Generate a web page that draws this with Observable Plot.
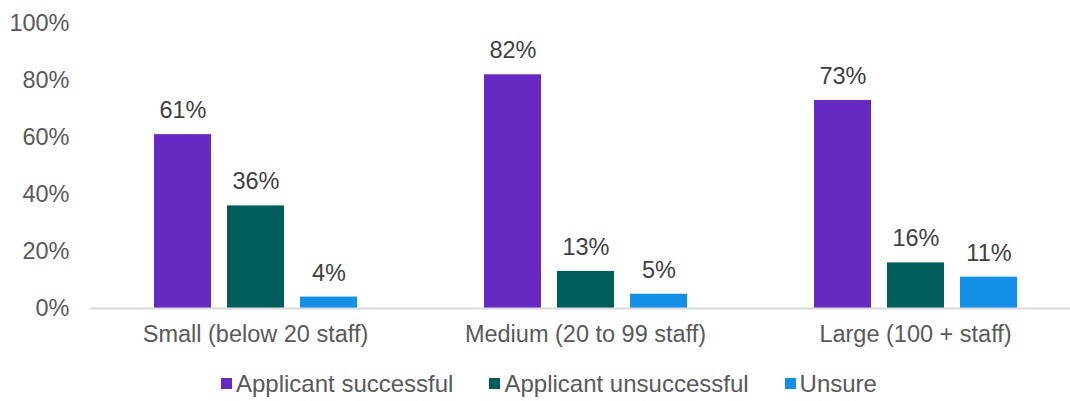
<!DOCTYPE html>
<html>
<head>
<meta charset="utf-8">
<script src="https://cdn.jsdelivr.net/npm/d3@7"></script>
<script src="https://cdn.jsdelivr.net/npm/@observablehq/plot@0.6"></script>
<style>
  html, body { margin: 0; padding: 0; background: #fff; }
  body { width: 1070px; height: 401px; overflow: hidden; font-family: "Liberation Sans", Arial, sans-serif; }
  #legend { display: flex; align-items: center; height: 35px; padding-top: 6px; padding-left: 221px; font-size: 24px; color: #595959; }
  .item { display: flex; align-items: center; margin-right: 36px; }
  .sw { width: 11px; height: 11px; margin-right: 4px; }
</style>
</head>
<body>
<div id="chart"></div>
<div id="legend"></div>
<script>
const groups = ["Small (below 20 staff)", "Medium (20 to 99 staff)", "Large (100 + staff)"];
const series = ["Applicant successful", "Applicant unsuccessful", "Unsure"];
const successful = [61, 82, 73];
const unsuccessful = [36, 13, 16];
const unsure = [4, 5, 11];
const yTicks = [0, 20, 40, 60, 80, 100];
const colors = ["#6629c2", "#005e5a", "#1490e8"];

const valuesBySeries = [successful, unsuccessful, unsure];
const data = groups.flatMap((g, i) => series.map((s, j) => ({group: g, series: s, value: valuesBySeries[j][i]})));

const chart = Plot.plot({
  width: 1070,
  height: 360,
  marginLeft: 90,
  marginRight: -10,
  marginTop: 23,
  marginBottom: 52,
  style: {fontFamily: "'Liberation Sans', Arial, sans-serif", fontSize: "23.5px", color: "#595959", background: "#fff"},
  fx: {domain: groups, padding: 0, label: null, axis: "bottom", tickSize: 0, tickPadding: 17},
  x: {domain: series, axis: null, paddingInner: 0.22, paddingOuter: 0.87},
  y: {domain: [0, 100], ticks: yTicks, tickFormat: d => d + "%", label: null, tickSize: 0, tickPadding: 21},
  color: {domain: series, range: colors},
  marks: [
    Plot.barY(data, {fx: "group", x: "series", y: "value", fill: "series"}),
    Plot.ruleY([0], {stroke: "#d9d9d9", strokeWidth: 2}),
    Plot.text(data, {fx: "group", x: "series", y: "value", text: d => d.value + "%", dy: -24, fill: "#404040"})
  ]
});
document.getElementById("chart").appendChild(chart);

const legend = document.getElementById("legend");
series.forEach((s, i) => {
  const item = document.createElement("div");
  item.className = "item";
  const sw = document.createElement("span");
  sw.className = "sw";
  sw.style.background = colors[i];
  const lab = document.createElement("span");
  lab.textContent = s;
  item.appendChild(sw);
  item.appendChild(lab);
  legend.appendChild(item);
});
</script>
</body>
</html>
